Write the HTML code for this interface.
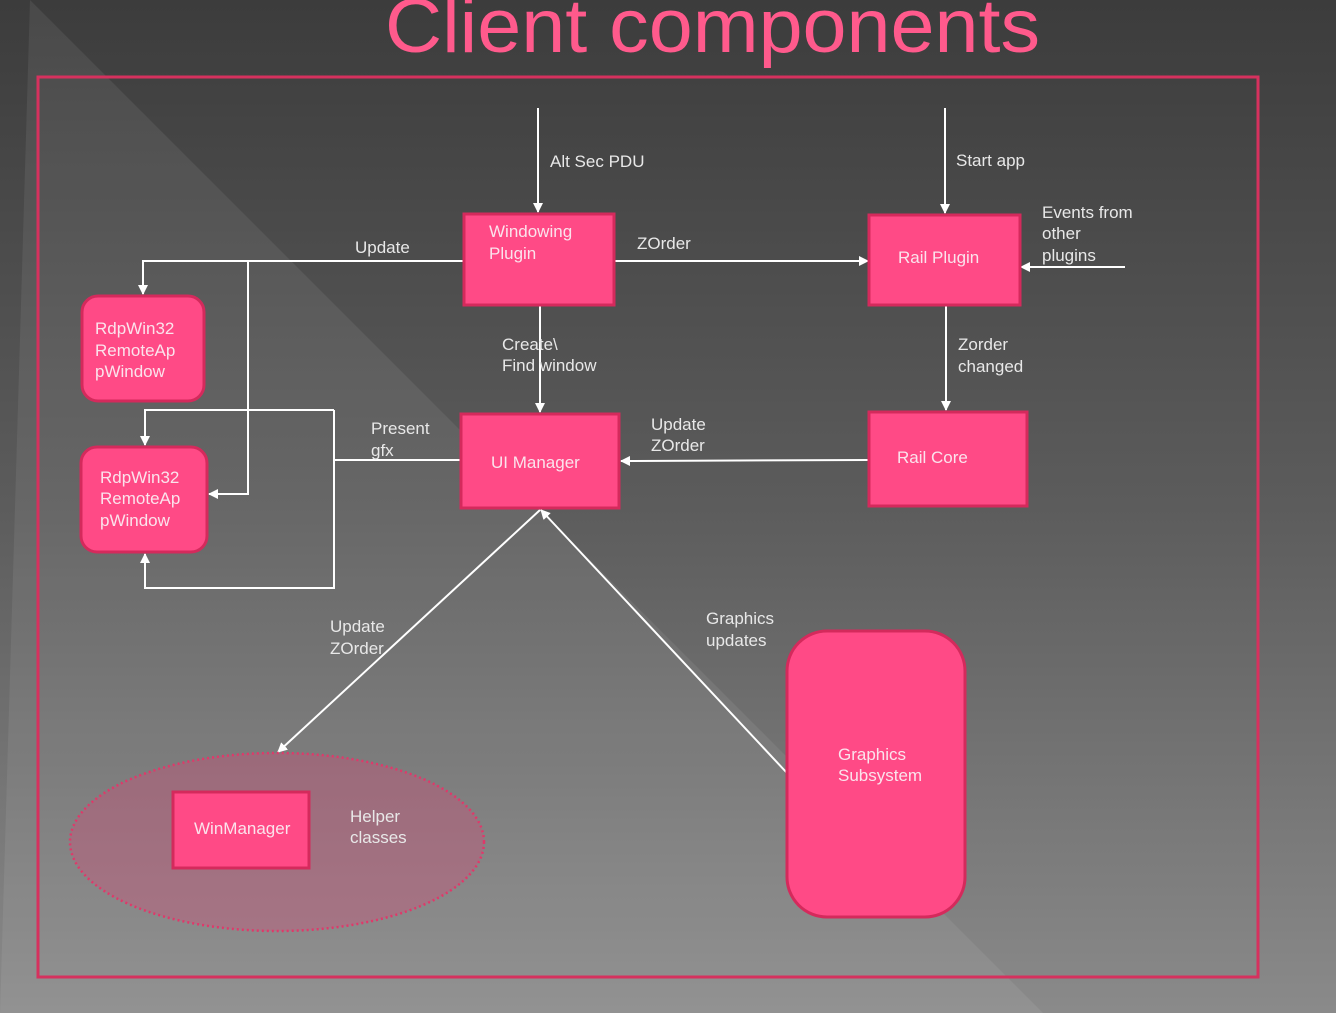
<!DOCTYPE html>
<html><head><meta charset="utf-8"><style>
html,body{margin:0;padding:0;width:1336px;height:1013px;overflow:hidden;background:#555}
svg{display:block}
text{font-family:"Liberation Sans",sans-serif;}
</style></head><body>
<svg width="1336" height="1013" viewBox="0 0 1336 1013" xmlns="http://www.w3.org/2000/svg">
<defs>
<linearGradient id="bg" x1="0" y1="0" x2="0" y2="1">
<stop offset="0" stop-color="#3c3c3c"/><stop offset="0.5" stop-color="#5c5c5c"/><stop offset="1" stop-color="#8a8a8a"/>
</linearGradient>
<marker id="ah" markerWidth="10" markerHeight="10" refX="9" refY="5" orient="auto" markerUnits="userSpaceOnUse">
<path d="M0,0 L10,5 L0,10 z" fill="#fff"/></marker>
</defs>
<rect width="1336" height="1013" fill="url(#bg)"/>
<polygon points="30,0 1043,1013 0,1013" fill="#fff" opacity="0.07"/>
<rect x="38" y="77" width="1220" height="900" fill="none" stroke="#d6315e" stroke-width="3"/>
<text x="385" y="52" textLength="655" lengthAdjust="spacingAndGlyphs" font-size="76" fill="#ff5a8c">Client components</text>

<g stroke="#fff" stroke-width="2" fill="none">
<line x1="538" y1="108" x2="538" y2="212" marker-end="url(#ah)"/>
<line x1="945" y1="108" x2="945" y2="213" marker-end="url(#ah)"/>
<line x1="614" y1="261" x2="868" y2="261" marker-end="url(#ah)"/>
<line x1="1125" y1="267" x2="1021" y2="267" marker-end="url(#ah)"/>
<line x1="946" y1="306" x2="946" y2="410" marker-end="url(#ah)"/>
<line x1="540" y1="306" x2="540" y2="412" marker-end="url(#ah)"/>
<line x1="868" y1="460" x2="621" y2="461" marker-end="url(#ah)"/>
<polyline points="464,261 143,261 143,294" marker-end="url(#ah)"/>
<polyline points="248,261 248,494 209,494" marker-end="url(#ah)"/>
<line x1="460" y1="460" x2="334" y2="460"/>
<polyline points="334,410 145,410 145,445" marker-end="url(#ah)"/>
<polyline points="334,410 334,588 145,588 145,554" marker-end="url(#ah)"/>
<line x1="787" y1="773" x2="541" y2="510" marker-end="url(#ah)"/>
<line x1="540" y1="510" x2="278" y2="752" marker-end="url(#ah)"/>
</g>

<ellipse cx="277" cy="842" rx="207" ry="89" fill="#d84a78" fill-opacity="0.35" stroke="#e0386a" stroke-width="2.5" stroke-dasharray="2 3"/>

<g fill="#ff4a86" stroke="#d42a5c" stroke-width="3">
<rect x="464" y="214" width="150" height="91"/>
<rect x="869" y="215" width="151" height="90"/>
<rect x="869" y="412" width="158" height="94"/>
<rect x="461" y="414" width="158" height="94"/>
<rect x="82" y="296" width="122" height="105" rx="16"/>
<rect x="81" y="447" width="126" height="105" rx="16"/>
<rect x="787" y="631" width="178" height="286" rx="40"/>
<rect x="173" y="792" width="136" height="76"/>
</g>

<g fill="#fbe3ec" font-size="17">
<text x="489" y="237">Windowing</text><text x="489" y="259">Plugin</text>
<text x="898" y="263">Rail Plugin</text>
<text x="897" y="463">Rail Core</text>
<text x="491" y="468">UI Manager</text>
<text x="95" y="334">RdpWin32</text><text x="95" y="356">RemoteAp</text><text x="95" y="377">pWindow</text>
<text x="100" y="483">RdpWin32</text><text x="100" y="504">RemoteAp</text><text x="100" y="526">pWindow</text>
<text x="838" y="760">Graphics</text><text x="838" y="781">Subsystem</text>
<text x="194" y="834">WinManager</text>
</g>
<g fill="#e8e8e8" font-size="17">
<text x="550" y="167">Alt Sec PDU</text>
<text x="956" y="166">Start app</text>
<text x="1042" y="218">Events from</text><text x="1042" y="239">other</text><text x="1042" y="261">plugins</text>
<text x="355" y="253">Update</text>
<text x="637" y="249">ZOrder</text>
<text x="502" y="350">Create\</text><text x="502" y="371">Find window</text>
<text x="958" y="350">Zorder</text><text x="958" y="372">changed</text>
<text x="371" y="434">Present</text><text x="371" y="456">gfx</text>
<text x="651" y="430">Update</text><text x="651" y="451">ZOrder</text>
<text x="330" y="632">Update</text><text x="330" y="654">ZOrder</text>
<text x="706" y="624">Graphics</text><text x="706" y="646">updates</text>
<text x="350" y="822">Helper</text><text x="350" y="843">classes</text>
</g>
</svg>
</body></html>
